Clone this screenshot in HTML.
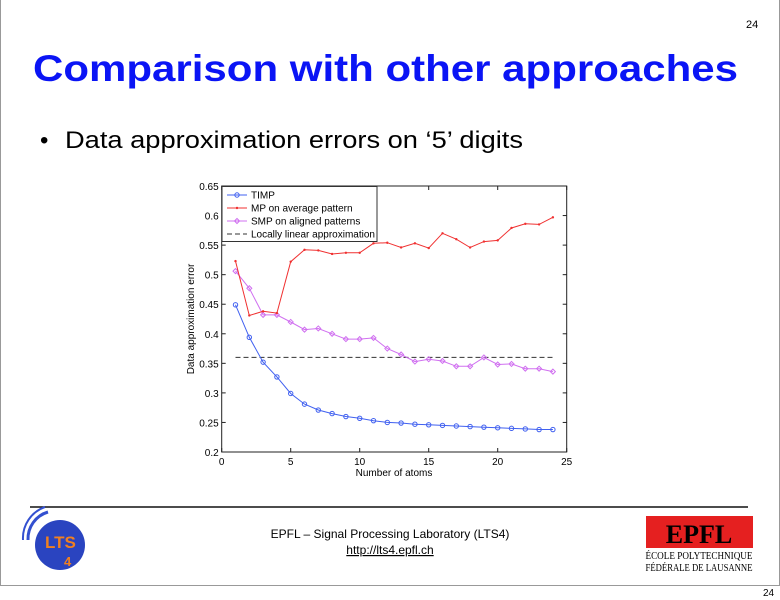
<!DOCTYPE html>
<html><head><meta charset="utf-8"><style>
html,body{margin:0;padding:0;background:#fff;}
svg{display:block;font-family:"Liberation Sans",Arial,sans-serif;}
</style></head><body>
<svg id="s" width="780" height="600" viewBox="0 0 780 600" xmlns="http://www.w3.org/2000/svg">
<rect x="0" y="0" width="780" height="600" fill="#fff"/>
<line x1="0.5" y1="0" x2="0.5" y2="585" stroke="#999"/>
<line x1="779.5" y1="0" x2="779.5" y2="585" stroke="#999"/>
<line x1="0" y1="585.5" x2="780" y2="585.5" stroke="#999"/>
<text x="746" y="28" font-size="11">24</text>
<text x="33" y="81" font-size="37" font-weight="bold" fill="#0a14f5" textLength="705" lengthAdjust="spacingAndGlyphs">Comparison with other approaches</text>
<text x="40" y="148" font-size="24">•</text>
<text x="65" y="148" font-size="24" textLength="458" lengthAdjust="spacingAndGlyphs">Data approximation errors on ‘5’ digits</text>
<g id="chart"></g>
<line x1="30" y1="507" x2="748" y2="507" stroke="#111" stroke-width="1.5"/>
<text x="390" y="538" font-size="12" text-anchor="middle">EPFL – Signal Processing Laboratory (LTS4)</text>
<text x="390" y="554" font-size="12" text-anchor="middle" text-decoration="underline">http://lts4.epfl.ch</text>
<g>
<path d="M28 540 a28 28 0 0 1 20 -28" stroke="#3350d0" stroke-width="3" fill="none"/>
<path d="M23 540 a33 33 0 0 1 22 -33" stroke="#3350d0" stroke-width="2" fill="none"/>
<circle cx="60" cy="545" r="25" fill="#2a44c0"/>
<text x="45" y="548" font-size="17" font-weight="bold" fill="#f08020">LTS</text>
<text x="64" y="566" font-size="13" font-weight="bold" fill="#f08020">4</text>
</g>
<rect x="646" y="516" width="107" height="32" fill="#e52020"/>
<text x="699" y="543" font-size="26" font-weight="bold" text-anchor="middle" font-family="Liberation Serif">EPFL</text>
<text x="699" y="559" font-size="10" text-anchor="middle" font-family="Liberation Serif" textLength="107" lengthAdjust="spacingAndGlyphs">ÉCOLE POLYTECHNIQUE</text>
<text x="699" y="571" font-size="10" text-anchor="middle" font-family="Liberation Serif" textLength="107" lengthAdjust="spacingAndGlyphs">FÉDÉRALE DE LAUSANNE</text>
<text x="763" y="596" font-size="10">24</text>
</svg>
<script>
var X0=221.7,X1=566.7,Y0=452,Y1=186;
function px(x){return X0+(X1-X0)*x/25;}
function py(y){return Y0-(Y0-Y1)*(y-0.2)/0.45;}
var T=[.449,.394,.352,.327,.299,.281,.271,.265,.260,.257,.253,.250,.249,.247,.246,.245,.244,.243,.242,.241,.240,.239,.238,.238];
var M=[.523,.431,.438,.435,.522,.542,.541,.535,.537,.537,.553,.554,.546,.553,.545,.570,.560,.546,.556,.558,.579,.586,.585,.597];
var S=[.506,.477,.432,.432,.420,.407,.409,.400,.391,.391,.393,.375,.365,.353,.357,.354,.345,.345,.360,.348,.349,.341,.341,.336];
var h='';
h+='<rect x="'+X0+'" y="'+Y1+'" width="'+(X1-X0)+'" height="'+(Y0-Y1)+'" fill="#fff" stroke="#222" stroke-width="1"/>';
for(var i=0;i<=5;i++){var x=px(i*5);h+='<line x1="'+x+'" y1="'+Y0+'" x2="'+x+'" y2="'+(Y0-4)+'" stroke="#222"/><line x1="'+x+'" y1="'+Y1+'" x2="'+x+'" y2="'+(Y1+4)+'" stroke="#222"/>';
h+='<text x="'+x+'" y="'+(Y0+13)+'" font-size="10" text-anchor="middle">'+(i*5)+'</text>';}
for(var j=0;j<=9;j++){var v=0.2+j*0.05;var y=py(v);h+='<line x1="'+X0+'" y1="'+y+'" x2="'+(X0+4)+'" y2="'+y+'" stroke="#222"/><line x1="'+X1+'" y1="'+y+'" x2="'+(X1-4)+'" y2="'+y+'" stroke="#222"/>';
var lab=(Math.round(v*100)/100).toString();h+='<text x="'+(X0-3)+'" y="'+(y+4)+'" font-size="10" text-anchor="end">'+lab+'</text>';}
h+='<text x="394" y="476" font-size="10" text-anchor="middle">Number of atoms</text>';
h+='<text transform="translate(194,319) rotate(-90)" font-size="10" text-anchor="middle">Data approximation error</text>';
h+='<line x1="'+px(1)+'" y1="'+py(.36)+'" x2="'+px(24)+'" y2="'+py(.36)+'" stroke="#333" stroke-dasharray="5,3"/>';
function ser(d,c,m){var p=d.map(function(v,i){return px(i+1).toFixed(1)+','+py(v).toFixed(1)}).join(' ');
var s='<polyline points="'+p+'" fill="none" stroke="'+c+'" stroke-width="1"/>';
d.forEach(function(v,i){var x=px(i+1),y=py(v);
if(m=='o')s+='<circle cx="'+x+'" cy="'+y+'" r="2.2" fill="none" stroke="'+c+'"/>';
else if(m=='.')s+='<circle cx="'+x+'" cy="'+y+'" r="1.2" fill="'+c+'"/>';
else s+='<path d="M'+(x-2.5)+' '+y+'L'+x+' '+(y-2.5)+'L'+(x+2.5)+' '+y+'L'+x+' '+(y+2.5)+'Z" fill="none" stroke="'+c+'"/>';});return s;}
h+=ser(S,'#d070f0','d');h+=ser(M,'#f03030','.');h+=ser(T,'#4060f0','o');
h+='<rect x="222" y="186.5" width="155" height="55" fill="#fff" stroke="#333"/>';
var L=[['TIMP','#4060f0','o'],['MP on average pattern','#f03030','.'],['SMP on aligned patterns','#d070f0','d'],['Locally linear approximation','#333','-']];
L.forEach(function(l,k){var y=195+k*13;
if(l[2]=='-')h+='<line x1="227" y1="'+y+'" x2="247" y2="'+y+'" stroke="#333" stroke-dasharray="5,3"/>';
else{h+='<line x1="227" y1="'+y+'" x2="247" y2="'+y+'" stroke="'+l[1]+'"/>';
if(l[2]=='o')h+='<circle cx="237" cy="'+y+'" r="2.2" fill="none" stroke="'+l[1]+'"/>';
else if(l[2]=='.')h+='<circle cx="237" cy="'+y+'" r="1.2" fill="'+l[1]+'"/>';
else h+='<path d="M234.5 '+y+'L237 '+(y-2.5)+'L239.5 '+y+'L237 '+(y+2.5)+'Z" fill="none" stroke="'+l[1]+'"/>';}
h+='<text x="251" y="'+(y+3.5)+'" font-size="10">'+l[0]+'</text>';});
document.getElementById('chart').innerHTML=h;
</script>
</body></html>
